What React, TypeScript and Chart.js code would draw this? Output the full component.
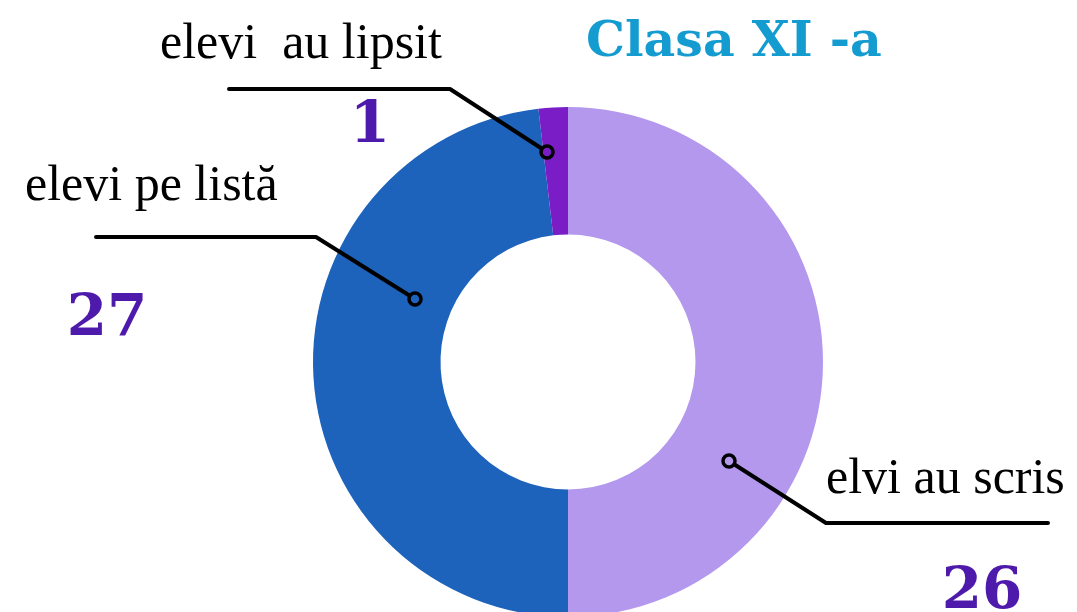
import React, { useEffect, useRef } from "react";
import { Chart, registerables } from "chart.js";

Chart.register(...registerables);

const categories = ["elvi au scris", "elevi pe listă", "elevi  au lipsit"];
const sliceValues = [27, 26, 1];
const shownNumbers = ["26", "27", "1"];
const sliceColors = ["#b398ee", "#1d62bb", "#7a1dc6"];
const title = "Clasa XI -a";

// annotation geometry relative to doughnut centre (dot, elbow, line end, label pos, number pos)
const annots = [
  { dot: [161, 99], elbow: [258, 161], end: [480, 161], label: [258, 131], num: [414, 246] },
  { dot: [-153, -63], elbow: [-252, -125], end: [-472, -125], label: [-543, -162], num: [-461, -27] },
  { dot: [-21, -210], elbow: [-118, -273], end: [-339, -273], label: [-408, -304], num: [-198, -220] },
];

const annotPlugin = {
  id: "annot",
  afterDraw(chart: any) {
    const ctx = chart.ctx;
    const arc = chart.getDatasetMeta(0).data[0];
    const cx = arc.x;
    const cy = arc.y;
    ctx.save();
    ctx.fillStyle = "#149bd0";
    ctx.font = "bold 49px 'DejaVu Serif'";
    ctx.textAlign = "left";
    ctx.textBaseline = "alphabetic";
    ctx.fillText(title, 586, 56);
    annots.forEach((a, i) => {
      ctx.strokeStyle = "#000";
      ctx.lineWidth = 4;
      ctx.lineCap = "round";
      ctx.lineJoin = "round";
      ctx.beginPath();
      ctx.moveTo(cx + a.dot[0], cy + a.dot[1]);
      ctx.lineTo(cx + a.elbow[0], cy + a.elbow[1]);
      ctx.lineTo(cx + a.end[0], cy + a.end[1]);
      ctx.stroke();
      ctx.beginPath();
      ctx.arc(cx + a.dot[0], cy + a.dot[1], 6, 0, Math.PI * 2);
      ctx.fillStyle = sliceColors[i];
      ctx.fill();
      ctx.lineWidth = 3.5;
      ctx.stroke();
      ctx.fillStyle = "#000";
      ctx.font = "50px 'Liberation Serif'";
      ctx.textAlign = "left";
      ctx.fillText(categories[i], cx + a.label[0], cy + a.label[1]);
      ctx.fillStyle = "#4e1aab";
      ctx.font = "bold 58px 'DejaVu Serif'";
      ctx.textAlign = "center";
      ctx.fillText(shownNumbers[i], cx + a.num[0], cy + a.num[1]);
    });
    ctx.restore();
  },
};

export default function App() {
  const ref = useRef<HTMLCanvasElement>(null);
  useEffect(() => {
    const chart = new Chart(ref.current!, {
      type: "doughnut",
      data: {
        labels: categories,
        datasets: [
          {
            data: sliceValues,
            backgroundColor: sliceColors,
            borderWidth: 0,
          },
        ],
      },
      options: {
        animation: false,
        responsive: false,
        devicePixelRatio: 1,
        cutout: "50%",
        layout: { padding: { left: 313, top: 107, right: 254, bottom: 23 } },
        plugins: { legend: { display: false }, tooltip: { enabled: false }, title: { display: false } },
      },
      plugins: [annotPlugin],
    });
    return () => chart.destroy();
  }, []);
  return (
    <div style={{ position: "fixed", left: 0, top: 0, width: 1077, height: 640, background: "#fff" }}>
      <canvas ref={ref} width={1077} height={640} />
    </div>
  );
}
